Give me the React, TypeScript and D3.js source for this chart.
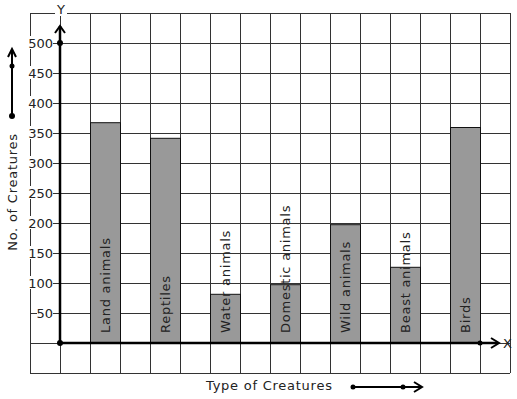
import React from 'react';
import * as d3 from 'd3';

const categories = ['Land animals', 'Reptiles', 'Water animals', 'Domestic animals', 'Wild animals', 'Beast animals', 'Birds'];
const counts = [368, 342, 82, 98, 198, 127, 360];
const yTicks = [50, 100, 150, 200, 250, 300, 350, 400, 450, 500];

const width = 517;
const height = 399;
const font = 'DejaVu Sans, sans-serif';

// grid cells are 30px; y axis sits one cell in from the left grid edge
const cell = 30;
const gridLeft = 30;
const gridTop = 13;
const cols = 16;
const rows = 12;
const originX = 60;
const originY = 343;

export default function App() {
  const yScale = d3.scaleLinear().domain([0, 500]).range([originY, 43]);
  // each bar takes one cell, with one empty cell between bars
  const n = categories.length;
  const xScale = d3.scaleBand()
    .domain(categories)
    .range([originX + cell, originX + cell + (2 * n - 1) * cell])
    .paddingInner(0.5)
    .paddingOuter(0);

  const vLines = d3.range(cols + 1).map(i => gridLeft + i * cell);
  const hLines = d3.range(rows + 1).map(i => gridTop + i * cell);
  const ink = '#222';
  const spacing = 0.75;

  return (
    <svg width={width} height={height} style={{ position: 'absolute', left: 0, top: 0, background: '#fff' }}>
      <rect width={width} height={height} fill="#fff" />
      <g stroke="#333" strokeWidth={1}>
        {vLines.map(x => (
          <line key={'v' + x} x1={x + 0.5} x2={x + 0.5} y1={gridTop} y2={gridTop + rows * cell} />
        ))}
        {hLines.map(y => (
          <line key={'h' + y} x1={gridLeft} x2={gridLeft + cols * cell} y1={y + 0.5} y2={y + 0.5} />
        ))}
      </g>

      {categories.map((c, i) => {
        const x = xScale(c)!;
        const w = xScale.bandwidth();
        const y = yScale(counts[i]);
        return (
          <g key={c}>
            <rect x={x + 0.5} y={y + 0.5} width={w} height={originY - y} fill="#999" stroke="#111" strokeWidth={1} />
            <text
              transform={`translate(${x + w / 2 + 4.5}, 333) rotate(-90)`}
              fontFamily={font}
              fontSize={13}
              letterSpacing={spacing}
              fill={ink}
            >
              {c}
            </text>
          </g>
        );
      })}

      {yTicks.map(t => (
        <g key={t} transform={`translate(0, ${yScale(t)})`}>
          <rect x={53 - String(t).length * 8} y={-7} width={String(t).length * 8} height={13} fill="#fff" />
          <text x={53} y={5} textAnchor="end" fontFamily={font} fontSize={13} fill={ink}>{t}</text>
        </g>
      ))}

      {/* axes */}
      <line x1={originX} x2={originX} y1={originY} y2={26} stroke="#000" strokeWidth={2.5} />
      <path d={`M${originX - 5},33 L${originX},26 L${originX + 5},33`} fill="none" stroke="#000" strokeWidth={2} />
      <circle cx={originX} cy={yScale(500)} r={3} fill="#000" />
      <circle cx={originX} cy={originY} r={3} fill="#000" />
      <rect x={55} y={2} width={12} height={14} fill="#fff" />
      <text x={61} y={14} textAnchor="middle" fontFamily={font} fontSize={13} fill={ink}>Y</text>

      <line x1={originX} x2={498} y1={originY} y2={originY} stroke="#000" strokeWidth={2.5} />
      <path d={`M491,338 L499,${originY} L491,348`} fill="none" stroke="#000" strokeWidth={2} />
      <circle cx={480} cy={originY} r={2.5} fill="#000" />
      <text x={503} y={348} fontFamily={font} fontSize={13} fill={ink}>X</text>

      {/* axis titles */}
      <text transform="translate(17, 192) rotate(-90)" textAnchor="middle" fontFamily={font} fontSize={13} letterSpacing={spacing} fill={ink}>
        No. of Creatures
      </text>
      <line x1={12} x2={12} y1={116} y2={50} stroke="#000" strokeWidth={2} />
      <path d="M8,57 L12,49 L16,57" fill="none" stroke="#000" strokeWidth={2} />
      <circle cx={12} cy={66} r={2.5} fill="#000" />
      <circle cx={12} cy={116} r={3} fill="#000" />

      <text x={206} y={390} fontFamily={font} fontSize={13} letterSpacing={spacing} fill={ink}>Type of Creatures</text>
      <line x1={353} x2={421} y1={387} y2={387} stroke="#000" strokeWidth={2} />
      <path d="M414,382 L422,387 L414,392" fill="none" stroke="#000" strokeWidth={2} />
      <circle cx={353} cy={387} r={2.5} fill="#000" />
      <circle cx={403} cy={387} r={2.5} fill="#000" />
    </svg>
  );
}
